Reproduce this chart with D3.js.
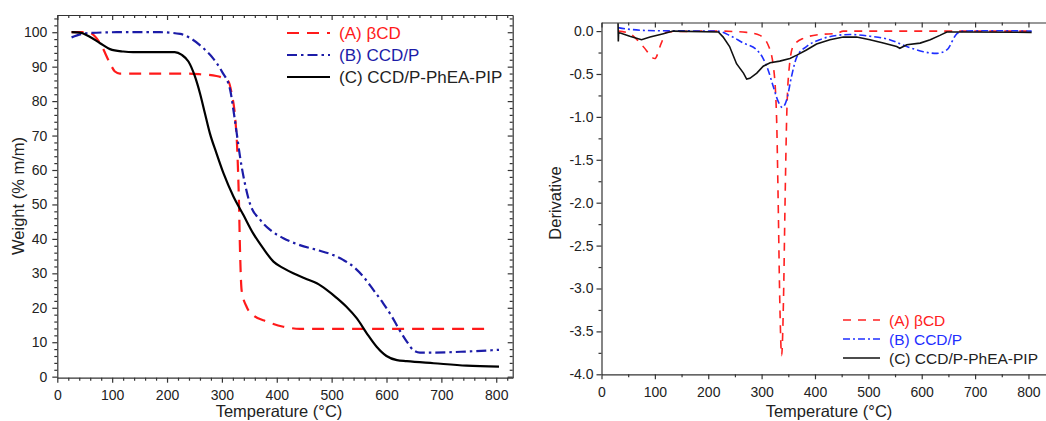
<!DOCTYPE html>
<html><head><meta charset="utf-8">
<script src="https://cdn.jsdelivr.net/npm/d3@7"></script>
<style>
html,body{margin:0;padding:0;background:#fff;}
svg{display:block;font-family:"Liberation Sans",Arial,sans-serif;}
.axis path,.axis line{stroke:#333;stroke-width:1.2;}
.axis text{fill:#222;font-size:14px;font-family:"Liberation Sans",Arial,sans-serif;}
</style></head>
<body><svg id="c" width="1046" height="421"></svg>
<script>
// ---------- Data: TGA (left panel) ----------
const seriesNames = ["(A) \u03B2CD", "(B) CCD/P", "(C) CCD/P-PhEA-PIP"];
const xTicksLeft = [0,100,200,300,400,500,600,700,800];
const yTicksLeft = [0,10,20,30,40,50,60,70,80,90,100];
const xTicksRight = [0,100,200,300,400,500,600,700,800];
const yTicksRight = [0,-0.5,-1,-1.5,-2,-2.5,-3,-3.5,-4];

const tgaA_T = [26,56,78,96,105,114,236,260,290,312,318,324,328,331,333,336,345,357,382,412,442,600,790];
const tgaA_W = [100,100,96.8,91,88.6,88,88,87.8,87.3,85.7,82,75.5,65.8,51.3,36.8,25,20.3,17.9,16,14.5,13.9,13.9,13.9];

const tgaB_T = [26,53,108,187,224,242,266,284,300,315,321,327,333,342,351,370,388,412,442,473,503,521,540,558,576,594,610,622,637,649,661,686,746,805];
const tgaB_W = [98.5,99.7,100,100,99.5,98.3,95.4,92.4,88.6,83.3,77.4,70.7,63.9,56,50.3,45.5,42.6,40.2,38.2,36.8,35.3,33.9,31.9,29,25.2,21.3,17.4,14,10.2,7.7,7,7,7.3,7.8];

const tgaC_T = [26,41,59,78,96,120,138,214,227,239,251,260,269,278,290,303,321,339,357,375,394,412,430,455,473,491,509,527,546,564,582,600,619,637,686,746,805];
const tgaC_W = [100,99.9,98.7,96.8,95.1,94.4,94.2,94.2,93.4,91.5,87.1,82.3,76.5,70.7,64.9,59,52.3,47,41.6,37.3,33.4,31.5,30,28.3,27.1,25.2,22.9,20.3,16.9,12.6,8.7,6,4.8,4.5,3.9,3.2,2.9];

// ---------- Data: DTG (right panel) ----------
const dtgA_T = [31,53,78,100,112,122,216,272,297,312,322,328,331,334,337.5,341,344,347,352,359,378,409,441,453,600,806];
const dtgA_D = [0,-0.03,-0.18,-0.32,-0.14,-0.01,0,-0.015,-0.05,-0.16,-0.41,-1.0,-1.97,-3.13,-3.78,-3.13,-1.97,-1.0,-0.41,-0.18,-0.085,-0.04,-0.027,0,0,0];

const dtgB_T = [31,53,103,216,240,266,291,303,312,322,331,339,347,356,366,384,409,441,466,503,540,572,603,628,647,666,678,740,806];
const dtgB_D = [0.04,0.02,0.004,0,-0.05,-0.14,-0.22,-0.32,-0.45,-0.65,-0.82,-0.89,-0.8,-0.53,-0.3,-0.18,-0.1,-0.05,-0.04,-0.06,-0.1,-0.18,-0.24,-0.26,-0.22,-0.03,0,0.004,0];

const dtgC_T = [31,31.5,32,34,53,75,91,116,134,219,228,240,253,266,272,278,291,303,316,334,353,366,384,403,428,453,478,503,528,553,559,572,597,616,634,647,678,806];
const dtgC_D = [0.09,-0.12,-0.03,-0.02,-0.06,-0.1,-0.07,-0.03,0,-0.01,-0.07,-0.18,-0.38,-0.49,-0.56,-0.55,-0.49,-0.41,-0.37,-0.35,-0.32,-0.28,-0.22,-0.15,-0.1,-0.07,-0.07,-0.1,-0.14,-0.18,-0.2,-0.16,-0.14,-0.1,-0.05,-0.01,-0.01,-0.015];

const zip = (xs, ys) => xs.map((x, i) => [x, ys[i]]);
const svg = d3.select("#c");

function range(a, b, s){ const r=[]; for(let v=a; v<=b+1e-9; v+=s) r.push(+v.toFixed(4)); return r; }

// ================= LEFT PANEL =================
{
  const L = 57.3, R = 512.7, T = 15, B = 377.7;
  const x = d3.scaleLinear().domain([0, 830]).range([L, R]);
  const y = d3.scaleLinear().domain([-0.3, 105]).range([B, T]);
  const g = svg.append("g");
  const minorX = range(0, 820, 20).filter(v => v % 100 !== 0);
  const minorY = range(0, 104, 2).filter(v => v % 10 !== 0);

  // bottom
  g.append("g").attr("class","axis").attr("transform",`translate(0,${B})`)
    .call(d3.axisBottom(x).tickValues(xTicksLeft).tickSize(5).tickPadding(7).tickSizeOuter(0));
  g.append("g").attr("class","axis").attr("transform",`translate(0,${B})`)
    .call(d3.axisBottom(x).tickValues(minorX).tickSize(3).tickFormat("").tickSizeOuter(0))
    .select(".domain").remove();
  // left
  g.append("g").attr("class","axis").attr("transform",`translate(${L},0)`)
    .call(d3.axisLeft(y).tickValues(yTicksLeft).tickSize(5).tickPadding(5).tickSizeOuter(0));
  g.append("g").attr("class","axis").attr("transform",`translate(${L},0)`)
    .call(d3.axisLeft(y).tickValues(minorY).tickSize(3).tickFormat("").tickSizeOuter(0))
    .select(".domain").remove();
  // top (inward)
  g.append("g").attr("class","axis").attr("transform",`translate(0,${T})`)
    .call(d3.axisTop(x).tickValues(xTicksLeft).tickSize(-5).tickFormat("").tickSizeOuter(0));
  g.append("g").attr("class","axis").attr("transform",`translate(0,${T})`)
    .call(d3.axisTop(x).tickValues(minorX).tickSize(-3).tickFormat("").tickSizeOuter(0))
    .select(".domain").remove();
  // right (inward)
  g.append("g").attr("class","axis").attr("transform",`translate(${R},0)`)
    .call(d3.axisRight(y).tickValues(yTicksLeft).tickSize(-5).tickFormat("").tickSizeOuter(0));
  g.append("g").attr("class","axis").attr("transform",`translate(${R},0)`)
    .call(d3.axisRight(y).tickValues(minorY).tickSize(-3).tickFormat("").tickSizeOuter(0))
    .select(".domain").remove();

  const line = d3.line().x(d => x(d[0])).y(d => y(d[1])).curve(d3.curveMonotoneX);
  const specs = [
    {d: zip(tgaA_T, tgaA_W), c: "#ff1a1a", dash: "12,8"},
    {d: zip(tgaB_T, tgaB_W), c: "#1c1ca8", dash: "10,4,2.5,4"},
    {d: zip(tgaC_T, tgaC_W), c: "#000000", dash: null}
  ];
  specs.forEach(s => {
    g.append("path").attr("d", line(s.d)).attr("fill","none").attr("stroke", s.c)
      .attr("stroke-width", 2.2).attr("stroke-dasharray", s.dash);
  });

  // legend
  const ly = [33, 55, 77];
  specs.forEach((s, i) => {
    g.append("line").attr("x1", 287).attr("x2", 330).attr("y1", ly[i]).attr("y2", ly[i])
      .attr("stroke", s.c).attr("stroke-width", 2.2).attr("stroke-dasharray", s.dash);
    g.append("text").attr("x", 339).attr("y", ly[i] + 6).attr("fill", i===2 ? "#222" : s.c)
      .attr("font-size", 17).text(seriesNames[i]);
  });

  g.append("text").attr("x", 279).attr("y", 417).attr("text-anchor","middle")
    .attr("font-size", 16.5).attr("fill","#222").text("Temperature (\u00B0C)");
  g.append("text").attr("transform", `translate(24,196) rotate(-90)`).attr("text-anchor","middle")
    .attr("font-size", 16.5).attr("fill","#222").text("Weight (% m/m)");
}

// ================= RIGHT PANEL =================
{
  const L = 601.5, T = 22.5, B = 374.3;
  const x = d3.scaleLinear().domain([0, 840]).range([L, L + 840 * 0.5337]);
  const y = d3.scaleLinear().domain([-4, 0.1]).range([B, T]);
  const R = x(840);
  const g = svg.append("g");
  const minorX = range(50, 850, 100);
  const minorY = range(-3.75, 0, 0.5);

  g.append("g").attr("class","axis").attr("transform",`translate(0,${B})`)
    .call(d3.axisBottom(x).tickValues(xTicksRight).tickSize(5).tickPadding(8).tickSizeOuter(0));
  g.append("g").attr("class","axis").attr("transform",`translate(0,${B})`)
    .call(d3.axisBottom(x).tickValues(minorX).tickSize(3).tickFormat("").tickSizeOuter(0))
    .select(".domain").remove();
  g.append("g").attr("class","axis").attr("transform",`translate(${L},0)`)
    .call(d3.axisLeft(y).tickValues(yTicksRight).tickSize(5).tickPadding(3).tickFormat(d3.format(".1f")).tickSizeOuter(0));
  g.append("g").attr("class","axis").attr("transform",`translate(${L},0)`)
    .call(d3.axisLeft(y).tickValues(minorY).tickSize(3).tickFormat("").tickSizeOuter(0))
    .select(".domain").remove();
  g.append("g").attr("class","axis").attr("transform",`translate(0,${T})`)
    .call(d3.axisTop(x).tickValues(xTicksRight).tickSize(-5).tickFormat("").tickSizeOuter(0));
  g.append("g").attr("class","axis").attr("transform",`translate(0,${T})`)
    .call(d3.axisTop(x).tickValues(minorX).tickSize(-3).tickFormat("").tickSizeOuter(0))
    .select(".domain").remove();
  g.selectAll(".axis text").filter(function(){return this.textContent.startsWith("\u2212");})
    .text(function(){return this.textContent.replace("\u2212","-");});

  const lineS = d3.line().x(d => x(d[0])).y(d => y(d[1])).curve(d3.curveMonotoneX);
  const lineL = d3.line().x(d => x(d[0])).y(d => y(d[1]));
  const specs = [
    {d: zip(dtgA_T, dtgA_D), c: "#ff2020", dash: "8,7", l: lineS},
    {d: zip(dtgB_T, dtgB_D), c: "#1f2fff", dash: "7,3,2,3", l: lineS},
    {d: zip(dtgC_T, dtgC_D), c: "#111111", dash: null, l: lineL}
  ];
  specs.forEach(s => {
    g.append("path").attr("d", s.l(s.d)).attr("fill","none").attr("stroke", s.c)
      .attr("stroke-width", 1.6).attr("stroke-dasharray", s.dash);
  });

  const ly = [320, 339, 358];
  specs.forEach((s, i) => {
    g.append("line").attr("x1", 843).attr("x2", 880).attr("y1", ly[i]).attr("y2", ly[i])
      .attr("stroke", s.c).attr("stroke-width", 1.6).attr("stroke-dasharray", s.dash);
    g.append("text").attr("x", 889).attr("y", ly[i] + 5.5).attr("fill", i===2 ? "#222" : s.c)
      .attr("font-size", 15.5).text(seriesNames[i]);
  });

  g.append("text").attr("x", 829).attr("y", 417).attr("text-anchor","middle")
    .attr("font-size", 16.5).attr("fill","#222").text("Temperature (\u00B0C)");
  g.append("text").attr("transform", `translate(561,203) rotate(-90)`).attr("text-anchor","middle")
    .attr("font-size", 16.5).attr("fill","#222").text("Derivative");
}
</script></body></html>
